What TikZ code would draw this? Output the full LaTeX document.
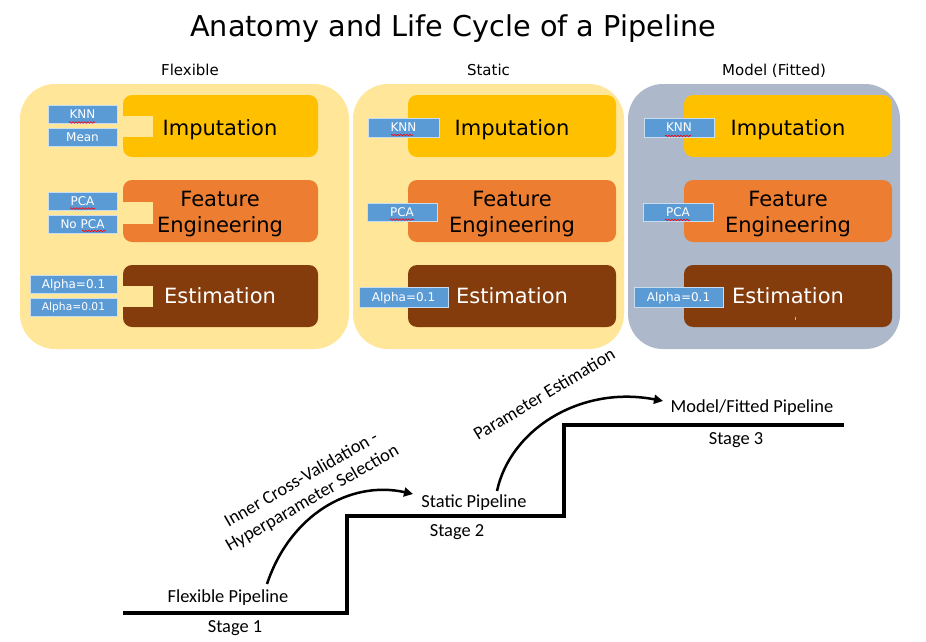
\documentclass[tikz,border=0pt]{standalone}
\usepackage{fontspec}
\setmainfont{DejaVu Sans}
\newfontfamily\calib{Carlito}
\usetikzlibrary{arrows.meta,decorations.pathmorphing}
\definecolor{panelY}{HTML}{FFE699}
\definecolor{panelG}{HTML}{ADB9CA}
\definecolor{impC}{HTML}{FFC000}
\definecolor{featC}{HTML}{ED7D31}
\definecolor{estC}{HTML}{843C0C}
\definecolor{optC}{HTML}{5B9BD5}
\definecolor{optB}{HTML}{C9DDF1}
\begin{document}
\begin{tikzpicture}[x=1pt,y=-1pt,
  panel/.style={rounded corners=35pt},
  stagebox/.style={rounded corners=9pt, inner sep=0pt, draw=none},
  stagetext/.style={anchor=base, inner sep=0pt, font=\fontsize{21}{25}\selectfont},
  opt/.style={fill=optC, draw=optB, line width=0.8pt, inner sep=0pt, text=white,
    font=\fontsize{12}{14}\selectfont, text height=8.7pt, text depth=0pt},
  optsmall/.style={opt, font=\fontsize{10.7}{12}\selectfont, text height=7.8pt},
  paneltitle/.style={anchor=base, inner sep=0pt, font=\fontsize{15}{18}\selectfont},
  stair/.style={anchor=base, inner sep=0pt, font=\calib\fontsize{18.4}{22}\selectfont},
  arc/.style={line width=2.5pt, -{Triangle[length=9pt,width=9pt]}},
  spell/.style={red, line width=0.6pt, decorate, decoration={snake, amplitude=0.8pt, segment length=3pt}}
]
\useasboundingbox (0,0) rectangle (926,642);
\fill[white] (0,0) rectangle (926,642);

% title
\node[anchor=base, inner sep=0pt, font=\fontsize{28.7}{34}\selectfont] (title) at (453,37) {Anatomy and Life Cycle of a Pipeline};

% panel titles
\node[paneltitle] (tflex) at (190,76) {Flexible};
\node[paneltitle] (tstat) at (488.5,76) {Static};
\node[paneltitle] (tmodel) at (774,76) {Model (Fitted)};

% panels
\fill[panel, panelY] (20,84) rectangle (349,349);
\fill[panel, panelY] (353,84) rectangle (624,349);
\fill[panel, panelG] (628,84) rectangle (900,349);

% ---------- Flexible ----------
\node[stagebox, fill=impC, minimum width=195pt, minimum height=62pt] (fimp) at (220.5,126) {};
\node[stagebox, fill=featC, minimum width=195pt, minimum height=62pt] (ffeat) at (220.5,211) {};
\node[stagebox, fill=estC, minimum width=195pt, minimum height=62pt] (fest) at (220.5,296) {};
\fill[panelY] (122,116) rectangle (153,137);
\fill[panelY] (122,202) rectangle (153,224);
\fill[panelY] (122,286) rectangle (153,307);
\node[stagetext] (fimpt) at (220,135) {Imputation};
\node[stagetext] (ffeat1) at (220,206.7) {Feature};
\node[stagetext] (ffeat2) at (220,232.7) {Engineering};
\node[stagetext, text=white] (festt) at (220,303) {Estimation};

\node[opt, minimum width=69pt, minimum height=18pt] (fknn) at (82.5,114) {KNN};
\node[opt, minimum width=69pt, minimum height=18pt] (fmean) at (82.5,137) {Mean};
\node[opt, minimum width=69pt, minimum height=18pt] (fpca) at (82.5,201.5) {PCA};
\node[opt, minimum width=69pt, minimum height=18pt] (fnopca) at (82.5,224) {No PCA};
\node[opt, minimum width=87pt, minimum height=18pt] (fa1) at (73.5,284.5) {Alpha=0.1};
\node[optsmall, minimum width=87pt, minimum height=18pt] (fa2) at (73.5,307) {Alpha=0.01};
\draw[spell] (69,122.5) -- (95,122.5);
\draw[spell] (70,208.5) -- (95,208.5);
\draw[spell] (82,231) -- (106,231);

% ---------- Static ----------
\node[stagebox, fill=impC, minimum width=208pt, minimum height=62pt] (simp) at (512,126) {};
\node[stagebox, fill=featC, minimum width=208pt, minimum height=62pt] (sfeat) at (512,211) {};
\node[stagebox, fill=estC, minimum width=208pt, minimum height=62pt] (sest) at (512,296) {};
\node[stagetext] (simpt) at (512,135) {Imputation};
\node[stagetext] (sfeat1) at (512,206.7) {Feature};
\node[stagetext] (sfeat2) at (512,232.7) {Engineering};
\node[stagetext, text=white] (sestt) at (512,303) {Estimation};
\node[opt, minimum width=71pt, minimum height=19pt] (sknn) at (403.5,127.5) {KNN};
\node[opt, minimum width=70pt, minimum height=18pt] (spca) at (402,212) {PCA};
\node[opt, minimum width=89pt, minimum height=20pt] (sa) at (403.5,297) {Alpha=0.1};
\draw[spell] (391,135) -- (413,135);
\draw[spell] (390,219.5) -- (414,219.5);

% ---------- Model ----------
\node[stagebox, fill=impC, minimum width=208pt, minimum height=62pt] (mimp) at (788,126) {};
\node[stagebox, fill=featC, minimum width=208pt, minimum height=62pt] (mfeat) at (788,211) {};
\node[stagebox, fill=estC, minimum width=208pt, minimum height=62pt] (mest) at (788,296) {};
\node[stagetext] (mimpt) at (788,135) {Imputation};
\node[stagetext] (mfeat1) at (788,206.7) {Feature};
\node[stagetext] (mfeat2) at (788,232.7) {Engineering};
\node[stagetext, text=white] (mestt) at (788,303) {Estimation};
\node[opt, minimum width=70pt, minimum height=19pt] (mknn) at (679,127.5) {KNN};
\node[opt, minimum width=70pt, minimum height=18pt] (mpca) at (678,212) {PCA};
\node[opt, minimum width=89pt, minimum height=20pt] (ma) at (678.5,297) {Alpha=0.1};
\draw[spell] (665,136) -- (691,136);
\draw[spell] (665,220) -- (690,220);
\fill[impC] (794.5,317) rectangle (796,320);

% ---------- stairs ----------
\draw[line width=4.5pt, line join=miter] (123,613) -| (347,516) -| (564,425) -- (844,425);

\node[stair] (flexp) at (228,602.3) {Flexible Pipeline};
\node[stair] (st1) at (235,632.7) {Stage 1};
\node[stair] (statp) at (474,507.3) {Static Pipeline};
\node[stair] (st2) at (457,536) {Stage 2};
\node[stair] (modp) at (752,412.7) {Model/Fitted Pipeline};
\node[stair] (st3) at (736,444) {Stage 3};

\node[inner sep=0pt, font=\calib\fontsize{18.4}{22}\selectfont, align=center, rotate=30] (cvlbl) at (307,489) {Inner Cross-Validation -\\Hyperparameter Selection};
\node[inner sep=0pt, font=\calib\fontsize{18.4}{22}\selectfont, rotate=31] (pelbl) at (544,394) {Parameter Estimation};

\coordinate (a1s) at (267,584);
\coordinate (a1e) at (413,494);
\coordinate (a2s) at (497,491);
\coordinate (a2e) at (663,401);
\draw[arc] (a1s) .. controls (290,515) and (350,480) .. (a1e);
\draw[arc] (a2s) .. controls (510,430) and (580,385) .. (a2e);
\end{tikzpicture}
\end{document}
